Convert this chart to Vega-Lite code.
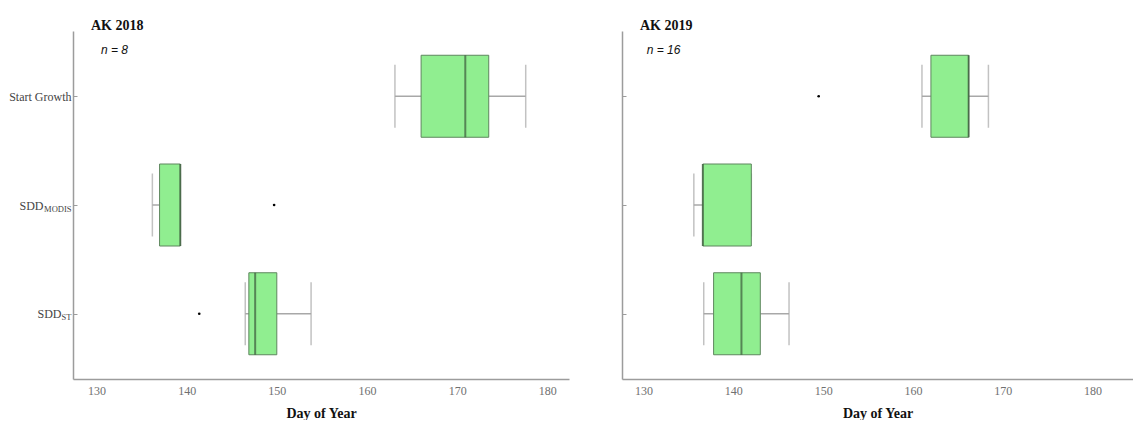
{
  "$schema": "https://vega.github.io/schema/vega-lite/v6.json",
  "background": "white",
  "padding": {"left": 8, "top": 19, "right": 0, "bottom": 0},
  "spacing": 52,
  "config": {
    "view": {"stroke": null},
    "axis": {"grid": false, "domainColor": "#9c9c9c", "domainWidth": 1.5, "tickColor": "#9c9c9c", "tickWidth": 1, "labelFont": "Liberation Serif", "titleFont": "Liberation Serif"},
    "title": {"font": "Liberation Serif", "fontSize": 14, "fontWeight": "bold", "color": "#111", "anchor": "start", "frame": "group", "dx": 18, "offset": -25, "subtitleFont": "Liberation Sans", "subtitleFontStyle": "italic", "subtitleFontSize": 12, "subtitleColor": "#111", "subtitlePadding": 12}
  },
  "datasets": {
    "boxes": [
      {"panel": "AK 2018", "cat": "Start Growth", "lower": 163.1, "q1": 166.0, "median": 170.9, "q3": 173.5, "upper": 177.6},
      {"panel": "AK 2018", "cat": "SDD MODIS", "lower": 136.2, "q1": 137.0, "median": 139.3, "q3": 139.3, "upper": 139.3},
      {"panel": "AK 2018", "cat": "SDD ST", "lower": 146.5, "q1": 146.9, "median": 147.6, "q3": 150.0, "upper": 153.8},
      {"panel": "AK 2019", "cat": "Start Growth", "lower": 161.0, "q1": 162.0, "median": 166.2, "q3": 166.2, "upper": 168.4},
      {"panel": "AK 2019", "cat": "SDD MODIS", "lower": 135.6, "q1": 136.6, "median": 136.6, "q3": 142.0, "upper": 142.0},
      {"panel": "AK 2019", "cat": "SDD ST", "lower": 136.7, "q1": 137.8, "median": 140.9, "q3": 143.0, "upper": 146.2}
    ],
    "outliers": [
      {"panel": "AK 2018", "cat": "SDD MODIS", "value": 149.7},
      {"panel": "AK 2018", "cat": "SDD ST", "value": 141.4},
      {"panel": "AK 2019", "cat": "Start Growth", "value": 149.5}
    ]
  },
  "hconcat": [
    {
      "width": 496,
      "height": 348,
      "title": {"text": "AK 2018", "subtitle": "\u200b\u00a0\u00a0\u00a0n = 8"},
      "resolve": {"axis": {"y": "independent"}},
      "layer": [
        {
          "data": {"name": "boxes"},
          "transform": [{"filter": "datum.panel == 'AK 2018'"}],
          "mark": {"type": "rule", "color": "#a8a8a8", "strokeWidth": 1.5},
          "encoding": {
            "y": {"field": "cat", "type": "nominal", "title": null, "scale": {"type": "point", "domain": ["Start Growth", "SDD MODIS", "SDD ST"], "padding": 0.6},
              "axis": {"orient": "left", "labelExpr": "datum.value == 'Start Growth' ? 'Start Growth' : 'SDD'", "labelFontSize": 12, "labelColor": "#444", "tickSize": -4,
                "labelPadding": {"condition": [{"test": "datum.value == 'SDD MODIS'", "value": 34}, {"test": "datum.value == 'SDD ST'", "value": 16}], "value": 6}}},
            "x": {"field": "lower", "type": "quantitative", "title": "Day of Year", "scale": {"domain": [127.4, 182.4], "nice": false, "zero": false},
              "axis": {"values": [130, 140, 150, 160, 170, 180], "ticks": false, "labelColor": "#707070", "labelFontSize": 12, "labelPadding": 6, "titleFontSize": 14, "titleFontWeight": "bold", "titleColor": "#111", "titlePadding": 10}},
            "x2": {"field": "q1"}
          }
        },
        {
          "data": {"name": "boxes"},
          "transform": [{"filter": "datum.panel == 'AK 2018'"}],
          "mark": {"type": "rule", "color": "#a8a8a8", "strokeWidth": 1.5},
          "encoding": {
            "y": {"field": "cat", "type": "nominal", "title": null,
              "axis": {"orient": "left", "labelExpr": "datum.value == 'SDD MODIS' ? 'MODIS' : (datum.value == 'SDD ST' ? 'ST' : '')", "labelFontSize": 8.5, "labelColor": "#444", "ticks": false, "domain": false, "labelPadding": 2, "labelOffset": 3}},
            "x": {"field": "q3", "type": "quantitative", "title": "Day of Year"},
            "x2": {"field": "upper"}
          }
        },
        {
          "data": {"name": "boxes"},
          "transform": [{"filter": "datum.panel == 'AK 2018'"}],
          "mark": {"type": "tick", "color": "#a8a8a8", "size": 63, "thickness": 1.5},
          "encoding": {
            "y": {"field": "cat", "type": "nominal", "title": null, "axis": null},
            "x": {"field": "lower", "type": "quantitative", "title": "Day of Year"}
          }
        },
        {
          "data": {"name": "boxes"},
          "transform": [{"filter": "datum.panel == 'AK 2018'"}],
          "mark": {"type": "tick", "color": "#a8a8a8", "size": 63, "thickness": 1.5},
          "encoding": {
            "y": {"field": "cat", "type": "nominal", "title": null, "axis": null},
            "x": {"field": "upper", "type": "quantitative", "title": "Day of Year"}
          }
        },
        {
          "data": {"name": "boxes"},
          "transform": [{"filter": "datum.panel == 'AK 2018'"}],
          "mark": {"type": "bar", "size": 82, "fill": "#90ee90", "stroke": "#5e865e", "strokeWidth": 1},
          "encoding": {
            "y": {"field": "cat", "type": "nominal", "title": null, "axis": null},
            "x": {"field": "q1", "type": "quantitative", "title": "Day of Year"},
            "x2": {"field": "q3"}
          }
        },
        {
          "data": {"name": "boxes"},
          "transform": [{"filter": "datum.panel == 'AK 2018'"}],
          "mark": {"type": "tick", "color": "#3c5a3c", "size": 82, "thickness": 2},
          "encoding": {
            "y": {"field": "cat", "type": "nominal", "title": null, "axis": null},
            "x": {"field": "median", "type": "quantitative", "title": "Day of Year"}
          }
        },
        {
          "data": {"name": "outliers"},
          "transform": [{"filter": "datum.panel == 'AK 2018'"}],
          "mark": {"type": "circle", "color": "#000", "size": 7, "opacity": 1},
          "encoding": {
            "y": {"field": "cat", "type": "nominal", "title": null, "axis": null},
            "x": {"field": "value", "type": "quantitative", "title": "Day of Year"}
          }
        }
      ]
    },
    {
      "width": 511,
      "height": 348,
      "title": {"text": "AK 2019", "subtitle": "\u200b\u00a0\u00a0n = 16"},
      "layer": [
        {
          "data": {"name": "boxes"},
          "transform": [{"filter": "datum.panel == 'AK 2019'"}],
          "mark": {"type": "rule", "color": "#a8a8a8", "strokeWidth": 1.5},
          "encoding": {
            "y": {"field": "cat", "type": "nominal", "title": null, "scale": {"type": "point", "domain": ["Start Growth", "SDD MODIS", "SDD ST"], "padding": 0.6},
              "axis": {"orient": "left", "labels": false, "tickSize": -4}},
            "x": {"field": "lower", "type": "quantitative", "title": "Day of Year", "scale": {"domain": [127.6, 184.5], "nice": false, "zero": false},
              "axis": {"values": [130, 140, 150, 160, 170, 180], "ticks": false, "labelColor": "#707070", "labelFontSize": 12, "labelPadding": 6, "titleFontSize": 14, "titleFontWeight": "bold", "titleColor": "#111", "titlePadding": 10}},
            "x2": {"field": "q1"}
          }
        },
        {
          "data": {"name": "boxes"},
          "transform": [{"filter": "datum.panel == 'AK 2019'"}],
          "mark": {"type": "rule", "color": "#a8a8a8", "strokeWidth": 1.5},
          "encoding": {
            "y": {"field": "cat", "type": "nominal", "title": null},
            "x": {"field": "q3", "type": "quantitative", "title": "Day of Year"},
            "x2": {"field": "upper"}
          }
        },
        {
          "data": {"name": "boxes"},
          "transform": [{"filter": "datum.panel == 'AK 2019'"}],
          "mark": {"type": "tick", "color": "#a8a8a8", "size": 63, "thickness": 1.5},
          "encoding": {
            "y": {"field": "cat", "type": "nominal", "title": null},
            "x": {"field": "lower", "type": "quantitative", "title": "Day of Year"}
          }
        },
        {
          "data": {"name": "boxes"},
          "transform": [{"filter": "datum.panel == 'AK 2019'"}],
          "mark": {"type": "tick", "color": "#a8a8a8", "size": 63, "thickness": 1.5},
          "encoding": {
            "y": {"field": "cat", "type": "nominal", "title": null},
            "x": {"field": "upper", "type": "quantitative", "title": "Day of Year"}
          }
        },
        {
          "data": {"name": "boxes"},
          "transform": [{"filter": "datum.panel == 'AK 2019'"}],
          "mark": {"type": "bar", "size": 82, "fill": "#90ee90", "stroke": "#5e865e", "strokeWidth": 1},
          "encoding": {
            "y": {"field": "cat", "type": "nominal", "title": null},
            "x": {"field": "q1", "type": "quantitative", "title": "Day of Year"},
            "x2": {"field": "q3"}
          }
        },
        {
          "data": {"name": "boxes"},
          "transform": [{"filter": "datum.panel == 'AK 2019'"}],
          "mark": {"type": "tick", "color": "#3c5a3c", "size": 82, "thickness": 2},
          "encoding": {
            "y": {"field": "cat", "type": "nominal", "title": null},
            "x": {"field": "median", "type": "quantitative", "title": "Day of Year"}
          }
        },
        {
          "data": {"name": "outliers"},
          "transform": [{"filter": "datum.panel == 'AK 2019'"}],
          "mark": {"type": "circle", "color": "#000", "size": 7, "opacity": 1},
          "encoding": {
            "y": {"field": "cat", "type": "nominal", "title": null},
            "x": {"field": "value", "type": "quantitative", "title": "Day of Year"}
          }
        }
      ]
    }
  ]
}
